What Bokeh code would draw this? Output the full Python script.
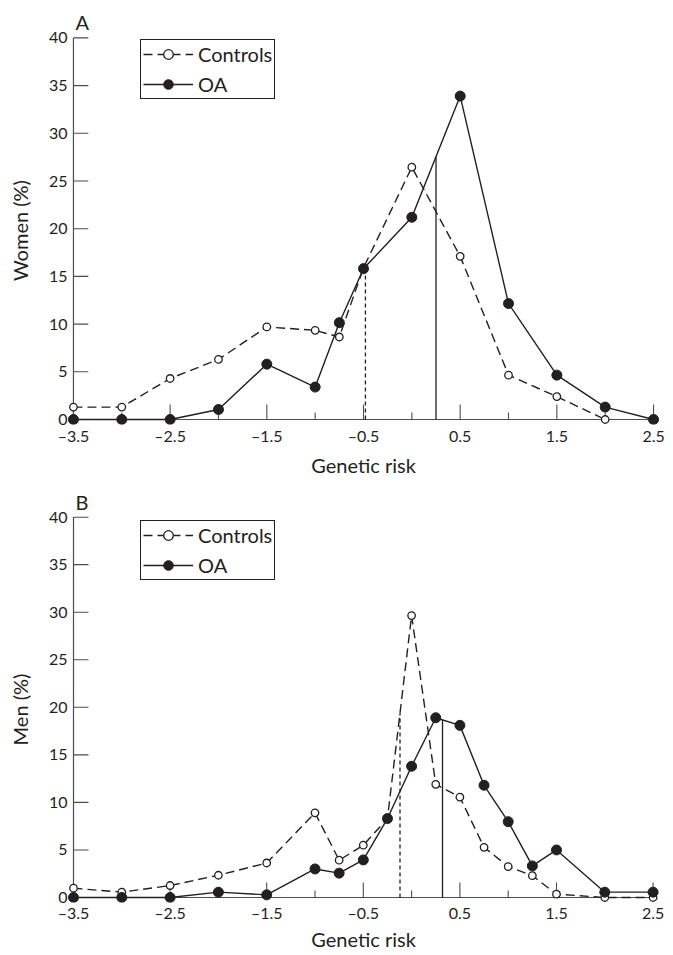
import numpy as np
from bokeh.plotting import figure
from bokeh.layouts import column
from bokeh.models import Range1d, FixedTicker, Legend, LegendItem
from bokeh.embed import file_html
from bokeh.resources import INLINE

# ---------------- data ----------------
genetic_risk_ticks = [-3.5, -2.5, -1.5, -0.5, 0.5, 1.5, 2.5]
genetic_risk_tick_labels = ["\u20133.5", "\u20132.5", "\u20131.5", "\u20130.5", "0.5", "1.5", "2.5"]
genetic_risk_minor_ticks = [-3.0, -2.0, -1.0, 0.0, 1.0, 2.0]
percent_ticks = [0, 5, 10, 15, 20, 25, 30, 35, 40]
series_names = ["Controls", "OA"]

women_controls_x = [-3.5, -3.0, -2.5, -2.0, -1.5, -1.0, -0.75, -0.5, 0.0, 0.5, 1.0, 1.5, 2.0]
women_controls_y = [1.3, 1.3, 4.3, 6.3, 9.7, 9.35, 8.65, 15.9, 26.45, 17.1, 4.65, 2.4, 0.0]
women_oa_x = [-3.5, -3.0, -2.5, -2.0, -1.5, -1.0, -0.75, -0.5, 0.0, 0.5, 1.0, 1.5, 2.0, 2.5]
women_oa_y = [0.0, 0.0, 0.0, 1.05, 5.8, 3.4, 10.15, 15.8, 21.2, 33.9, 12.15, 4.65, 1.3, 0.0]
women_mean_controls = -0.48
women_mean_oa = 0.25

men_x = [-3.5, -3.0, -2.5, -2.0, -1.5, -1.0, -0.75, -0.5, -0.25, 0.0, 0.25, 0.5, 0.75, 1.0, 1.25, 1.5, 2.0, 2.5]
men_controls_y = [0.98, 0.56, 1.26, 2.34, 3.63, 8.9, 3.92, 5.5, 8.3, 29.65, 11.9, 10.56, 5.28, 3.25, 2.3, 0.35, 0.0, 0.0]
men_oa_y = [0.0, 0.0, 0.0, 0.56, 0.28, 3.0, 2.56, 3.95, 8.3, 13.8, 18.9, 18.1, 11.8, 7.97, 3.32, 5.0, 0.56, 0.56]
men_mean_controls = -0.12
men_mean_oa = 0.32

# ---------------- style ----------------
INK = "#231f20"
AXIS = "#4d4d4f"
FONT = "Lato"
X0, X1, Y0, Y1 = -3.5, 2.5, 0, 40
PAD_L, PAD_B = 6, 5


def make_panel(tag, ylabel, cx, cy, ox, oy, mean_c, mean_o,
               width, height, left, top, sx, sy, title_standoff, legend_gap,
               tick_standoff, label_standoff):
    frame_w = round((X1 - X0) * sx + 2 * PAD_L)
    frame_h = round((Y1 - Y0) * sy + PAD_B + 1)
    xmin = X0 - PAD_L / sx
    ymin = Y0 - PAD_B / sy
    p = figure(width=width, height=height,
               min_border_top=top, min_border_left=left,
               min_border_right=width - left - frame_w,
               min_border_bottom=height - top - frame_h,
               x_range=Range1d(xmin, xmin + frame_w / sx),
               y_range=Range1d(ymin, ymin + frame_h / sy),
               output_backend="svg", toolbar_location=None)
    p.grid.visible = False
    p.outline_line_color = None
    p.background_fill_color = "white"

    p.title.text = tag
    p.title.align = "left"
    p.title.offset = 8
    p.title.standoff = title_standoff
    p.title.text_font = FONT
    p.title.text_font_size = "20px"
    p.title.text_font_style = "normal"
    p.title.text_color = INK

    # axes (labels only; axis lines and inward ticks are drawn at the data origin)
    for ax in (p.xaxis, p.yaxis):
        ax.axis_line_color = None
        ax.major_tick_line_color = None
        ax.minor_tick_line_color = None
        ax.major_tick_out = 0
        ax.major_tick_in = 0
        ax.minor_tick_out = 0
        ax.minor_tick_in = 0
        ax.major_label_text_font = FONT
        ax.major_label_text_font_size = "16px"
        ax.major_label_text_color = INK
        ax.axis_label_text_font = FONT
        ax.axis_label_text_font_size = "20px"
        ax.axis_label_text_font_style = "normal"
        ax.axis_label_text_color = INK
    p.xaxis.ticker = FixedTicker(ticks=genetic_risk_ticks, minor_ticks=[])
    p.xaxis.major_label_overrides = {v: s for v, s in zip(genetic_risk_ticks, genetic_risk_tick_labels)}
    p.xaxis.major_label_standoff = tick_standoff
    p.xaxis.axis_label = "Genetic risk"
    p.xaxis.axis_label_standoff = label_standoff
    p.yaxis.ticker = FixedTicker(ticks=percent_ticks, minor_ticks=[])
    p.yaxis.major_label_standoff = 0
    p.yaxis.axis_label = ylabel
    p.yaxis.axis_label_standoff = 14

    p.segment(x0=[X0, X0], y0=[Y0, Y0], x1=[X1, X0], y1=[Y0, Y1], line_color=AXIS, line_width=1.2)
    p.segment(x0=genetic_risk_ticks, y0=Y0, x1=genetic_risk_ticks, y1=Y0 + 15 / sy,
              line_color=AXIS, line_width=1.1)
    p.segment(x0=genetic_risk_minor_ticks, y0=Y0, x1=genetic_risk_minor_ticks, y1=Y0 + 7 / sy,
              line_color=AXIS, line_width=1.1)
    p.segment(x0=X0, y0=percent_ticks, x1=X0 + 15 / sx, y1=percent_ticks,
              line_color=AXIS, line_width=1.1)

    # mean lines, up to the curves
    top_c = float(np.interp(mean_c, cx, cy))
    top_o = float(np.interp(mean_o, ox, oy))
    p.segment(x0=[mean_c], y0=[0], x1=[mean_c], y1=[top_c], line_color=INK,
              line_width=1.3, line_dash="4 3")
    p.segment(x0=[mean_o], y0=[0], x1=[mean_o], y1=[top_o], line_color=INK, line_width=1.3)

    rc_line = p.line(cx, cy, line_color=INK, line_width=1.4, line_dash="9 5")
    rc_pts = p.scatter(cx, cy, marker="circle", size=7.5, fill_color="white",
                       line_color=INK, line_width=1.3)
    ro_line = p.line(ox, oy, line_color=INK, line_width=1.4)
    ro_pts = p.scatter(ox, oy, marker="circle", size=10, fill_color=INK, line_color=INK)

    legend = Legend(items=[LegendItem(label=series_names[0], renderers=[rc_line, rc_pts]),
                           LegendItem(label=series_names[1], renderers=[ro_line, ro_pts])],
                    location=(73, frame_h - legend_gap - 58),
                    border_line_color=INK, border_line_width=1.3, border_line_alpha=1,
                    background_fill_color="white", background_fill_alpha=1,
                    padding=2, spacing=6, margin=0,
                    glyph_width=50, glyph_height=24, label_height=24, label_standoff=5,
                    label_text_font=FONT, label_text_font_size="20px", label_text_color=INK)
    p.add_layout(legend)
    return p


pa = make_panel("A", "Women (%)", women_controls_x, women_controls_y, women_oa_x, women_oa_y,
                women_mean_controls, women_mean_oa,
                width=672, height=481, left=67, top=36, sx=97.5, sy=9.54,
                title_standoff=5, legend_gap=4.7, tick_standoff=1, label_standoff=5)
pb = make_panel("B", "Men (%)", men_x, men_controls_y, men_x, men_oa_y,
                men_mean_controls, men_mean_oa,
                width=672, height=474, left=67, top=35, sx=96.6, sy=9.51,
                title_standoff=6, legend_gap=6, tick_standoff=0, label_standoff=2)

layout = column(pa, pb, spacing=0)
open("out.html", "w").write(file_html(layout, INLINE))
